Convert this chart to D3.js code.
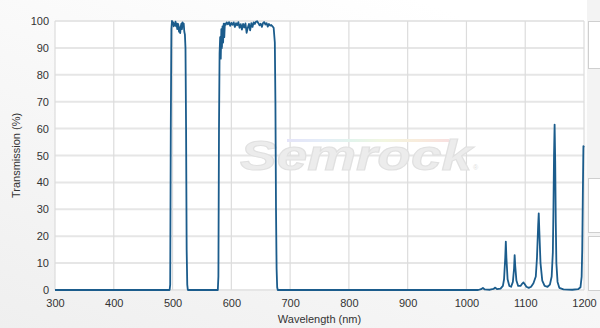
<!DOCTYPE html>
<html>
<head>
<meta charset="utf-8">
<script src="https://cdn.jsdelivr.net/npm/d3@7"></script>
<style>
  html, body { margin: 0; padding: 0; background: #fff; }
  svg { display: block; font-family: "Liberation Sans", Arial, sans-serif; }
</style>
</head>
<body>
<div id="chart"></div>
<script>
// Spectrum: wavelength (nm) and transmission (%)
const wavelengths = [
  300, 495, 496, 497, 498, 499, 500, 501, 502, 503, 504, 505, 506, 507, 508, 509,
  510, 511, 512, 513, 514, 515, 516, 517, 518, 519, 520, 521, 522, 523, 524, 525, 526,
  577, 578, 579, 580, 581, 582, 583, 584, 585, 586, 587, 588, 589,
  590, 592, 594, 596, 598, 600, 602, 604, 606, 608, 610, 612, 614, 616, 618, 620,
  622, 624, 626, 628, 630, 632, 634, 636, 638, 640, 642, 644, 646, 648, 650, 652,
  654, 656, 658, 660, 662, 664, 666, 668, 670, 672, 674, 675, 676, 677, 678, 679,
  1020, 1025, 1028, 1031, 1040, 1046, 1049, 1052, 1058, 1062, 1064, 1066, 1067, 1068,
  1070, 1073, 1076, 1079, 1081, 1082, 1083, 1085, 1088, 1092, 1095, 1097, 1099, 1102,
  1106, 1110, 1114, 1118, 1120, 1122, 1123, 1124, 1126, 1129, 1133, 1138, 1142, 1145,
  1147, 1148, 1149, 1150, 1151, 1152, 1153, 1155, 1158, 1165, 1180, 1190, 1194, 1196,
  1197, 1198, 1199, 1200
]
const transmission = [
  0, 0, 2, 60, 97, 100, 99, 99.5, 98, 99, 98.5, 99.8, 98, 99, 97, 99,
  98.5, 96, 97.5, 95.5, 98, 99, 97, 99.5, 98, 99, 96, 95, 90, 60, 15, 2, 0,
  0, 5, 60, 88, 94, 86, 97, 90, 98, 92, 99, 94, 99,
  98.5, 99.5, 98.8, 99.6, 98.2, 99.3, 98.6, 99.5, 97.8, 99.2, 98.4, 99.6, 97.5, 98.8, 96.8, 98.9,
  97.6, 99.1, 95.6, 97.5, 98.9, 96.5, 99.2, 97.8, 99.5, 98.9, 99.8, 99.9, 99.2, 98.4, 99, 97.8,
  99.3, 99.6, 98.7, 99.2, 97.9, 98.9, 98.3, 98.5, 98, 97.5, 92, 70, 30, 8, 1, 0,
  0, 0.3, 0.8, 0.2, 0.1, 0.4, 0.9, 0.3, 0.5, 1.5, 4, 12, 18, 12,
  4, 1.5, 1.2, 3, 8, 13, 9, 3.5, 1.5, 1.5, 2.4, 2.8, 2.2, 1.2,
  0.8, 1.2, 2.5, 5, 12, 24, 28.5, 22, 10, 3.5, 1.5, 1.2, 2, 5,
  14, 30, 50, 61.5, 48, 25, 10, 3, 0.8, 0.2, 0.1, 0.3, 1, 5,
  15, 35, 53.5, 53
]
const xTicks = [300, 400, 500, 600, 700, 800, 900, 1000, 1100, 1200]
const yTicks = [0, 10, 20, 30, 40, 50, 60, 70, 80, 90, 100]

const width = 600
const height = 328
const margin = { top: 21, right: 16, bottom: 38, left: 55 }
const innerW = width - margin.left - margin.right
const innerH = height - margin.top - margin.bottom

const svg = d3.select('#chart').append('svg')
  .attr('width', width)
  .attr('height', height)

// Page background
const defs = svg.append('defs')
const bg = defs.append('linearGradient').attr('id', 'bg')
  .attr('x1', '0.7').attr('y1', '0').attr('x2', '0').attr('y2', '1')
bg.append('stop').attr('offset', '0').attr('stop-color', '#ffffff')
bg.append('stop').attr('offset', '1').attr('stop-color', '#efefef')
const rainbow = defs.append('linearGradient').attr('id', 'rainbow')
;['#e4e4f8', '#e4ecf8', '#e2f4ec', '#f2f6e0', '#f8ecdc', '#f8e0e0'].forEach((c, i, a) => {
  rainbow.append('stop').attr('offset', i / (a.length - 1)).attr('stop-color', c)
})

svg.append('rect').attr('width', width).attr('height', height).attr('fill', 'url(#bg)')

// Side panels at the right edge
svg.append('rect').attr('x', 587).attr('y', 0).attr('width', 13).attr('height', 300)
  .attr('fill', '#f3f3f3')
;[[21, 68], [178, 232], [236, 290]].forEach(([y0, y1]) => {
  svg.append('rect').attr('x', 588.5).attr('y', y0 + 0.5).attr('width', 14).attr('height', y1 - y0)
    .attr('fill', '#fff').attr('stroke', '#cfcfcf')
})

const g = svg.append('g').attr('transform', `translate(${margin.left},${margin.top})`)

// Scales
const x = d3.scaleLinear().domain([300, 1200]).range([0, innerW])
const y = d3.scaleLinear().domain([0, 100]).range([innerH, 0])

g.append('rect').attr('width', innerW).attr('height', innerH).attr('fill', '#fff')

// Grid
g.append('g').selectAll('line').data(yTicks).enter().append('line')
  .attr('x1', 0).attr('x2', innerW)
  .attr('y1', d => y(d)).attr('y2', d => y(d))
  .attr('stroke', '#e6e6e6').attr('stroke-width', 2)
g.append('g').selectAll('line').data(xTicks).enter().append('line')
  .attr('x1', d => x(d)).attr('x2', d => x(d))
  .attr('y1', 0).attr('y2', innerH)
  .attr('stroke', '#dcdcdc').attr('stroke-width', 1.2)

// Watermark
const wm = g.append('g').attr('transform', 'translate(185,149)')
wm.append('rect').attr('x', 47).attr('y', -31).attr('width', 162).attr('height', 3)
  .attr('fill', 'url(#rainbow)')
wm.append('text').attr('x', 0).attr('y', 0)
  .attr('font-size', 42).attr('font-weight', 'bold').attr('font-style', 'italic')
  .attr('textLength', 232).attr('lengthAdjust', 'spacingAndGlyphs')
  .attr('fill', '#ececec').attr('stroke', '#e0e0e0').attr('stroke-width', 1)
  .text('Semrock')
wm.append('text').attr('x', 233).attr('y', 0).attr('font-size', 7).attr('fill', '#e0e0e0').text('®')

// Axes
const xAxis = d3.axisBottom(x).tickValues(xTicks).tickFormat(d3.format('d')).tickSize(0).tickPadding(9)
const yAxis = d3.axisLeft(y).tickValues(yTicks).tickFormat(d3.format('d')).tickSize(0).tickPadding(6)

g.append('g').attr('transform', `translate(0,${innerH})`).call(xAxis)
  .call(s => s.select('.domain').remove())
  .selectAll('text').attr('font-size', 11).attr('fill', '#333')
  .attr('font-family', '"Liberation Sans", Arial, sans-serif')
g.append('g').call(yAxis)
  .call(s => s.select('.domain').remove())
  .selectAll('text').attr('font-size', 11).attr('fill', '#333')
  .attr('font-family', '"Liberation Sans", Arial, sans-serif')

g.append('text')
  .attr('x', innerW / 2).attr('y', innerH + 33)
  .attr('text-anchor', 'middle').attr('font-size', 11).attr('fill', '#333')
  .text('Wavelength (nm)')
g.append('text')
  .attr('transform', 'rotate(-90)')
  .attr('x', -innerH / 2).attr('y', -35)
  .attr('text-anchor', 'middle').attr('font-size', 11).attr('fill', '#333')
  .text('Transmission (%)')

// Spectrum line
const data = wavelengths.map((w, i) => ({ w, t: transmission[i] }))
const line = d3.line().x(d => x(d.w)).y(d => y(d.t))
g.append('path').datum(data)
  .attr('d', line)
  .attr('fill', 'none')
  .attr('stroke', '#1b5c8c')
  .attr('stroke-width', 1.8)
  .attr('stroke-linejoin', 'round')
</script>
</body>
</html>
